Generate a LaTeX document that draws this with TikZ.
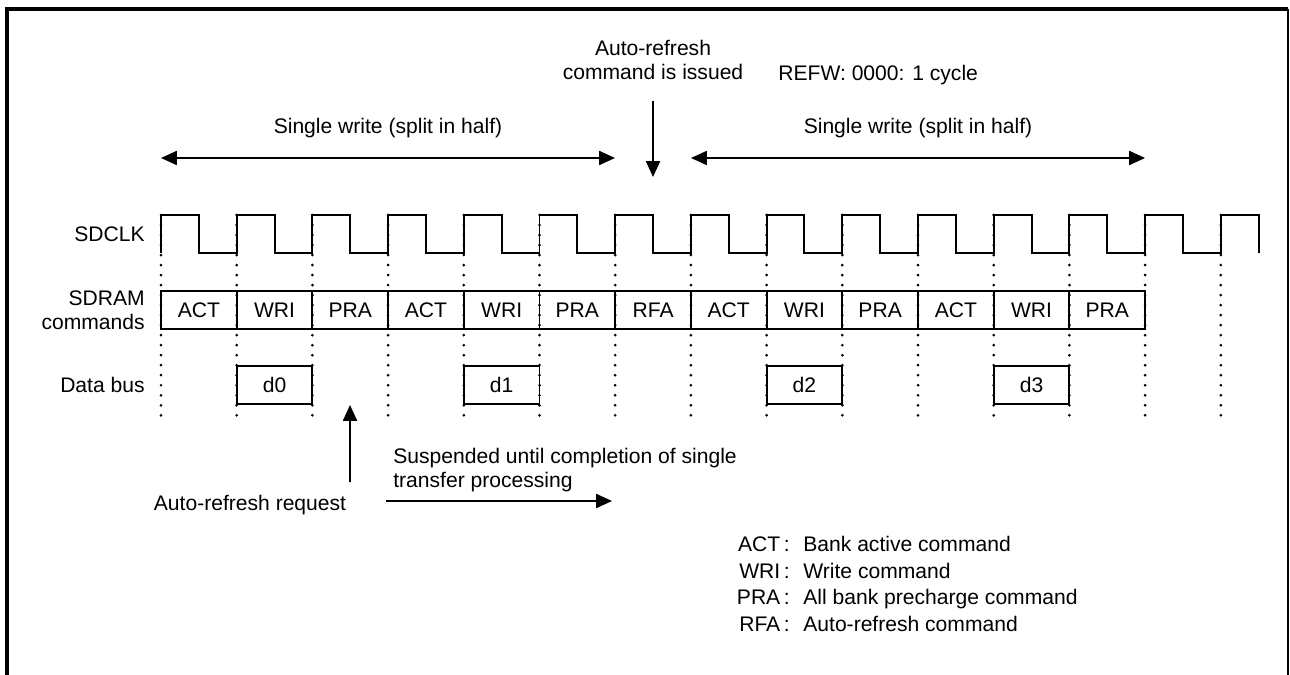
\documentclass[tikz,border=0pt]{standalone}
\usepackage{fontspec}
\setmainfont{Liberation Sans}
\usetikzlibrary{arrows.meta, positioning}

\def\per{75.7}

\begin{document}
\begin{tikzpicture}[x=0.02cm, y=-0.02cm,
    >={Triangle[length=9pt,width=8pt]},
    lbl/.style={font=\fontsize{12}{13.5}\selectfont, inner sep=0pt, align=center},
    cell/.style={lbl, draw, line width=1.1pt, minimum width=1.514cm, minimum height=0.76cm},
    guide/.style={line width=1.7pt, line cap=round, dash pattern=on 0pt off 5.7pt},
    wave/.style={line width=1.1pt},
    arr/.style={->, line width=0.9pt},
    dblarr/.style={<->, line width=0.9pt}]

    \useasboundingbox (0,0) rectangle (1290,675);
    \draw[line width=1.8pt] (7,675) -- (7,9) -- (1288,9);
    \draw[line width=1.2pt] (1288,9) -- (1288,675);

    % signal names
    \node[lbl, anchor=east] (sdclk) at (145,234) {SDCLK};
    \node[lbl, anchor=east, align=right] (sdram) at (145,310) {SDRAM\\commands};
    \node[lbl, anchor=east] (dbus) at (145,385) {Data bus};

    % cycle boundaries
    \foreach \i in {0,...,14}
        \draw[guide] ({161+\per*\i},215) -- ({161+\per*\i},417);

    % clock
    \draw[wave] (161,253) \foreach \i in {1,...,14}{
        -- ++(0,-38) -- ++(37.85,0) -- ++(0,38) -- ++(37.85,0)}
        -- ++(0,-38) -- ++(37.85,0) -- ++(0,38);

    % commands
    \foreach \c [count=\i] in {ACT,WRI,PRA,ACT,WRI,PRA,RFA,ACT,WRI,PRA,ACT,WRI,PRA}
        \node[cell] (cmd\i) at ({161+\per*(\i-0.5)},310) {\c};

    % data
    \foreach \k/\n in {1/0,4/1,8/2,11/3}
        \node[cell] (d\n) at ({161+\per*(\k+0.5)},385) {d\n};

    % top annotations
    \node[lbl] (sw1) at (388,128) {Single write (split in half)};
    \node[lbl] (sw2) at (918,128) {Single write (split in half)};
    \node[lbl] (issued) at (653,60) {Auto-refresh\\command is issued};
    \node[lbl, anchor=west] (refw) at (778,75) {REFW: 0000: 1 cycle};
    \coordinate (wa) at (161,158);
    \coordinate (wb) at (615,158);
    \coordinate (wc) at (691,158);
    \coordinate (wd) at (1145,158);
    \coordinate (rfaTop) at (653,101);
    \coordinate (rfaTip) at (653,177);
    \draw[dblarr] (wa) -- (wb);
    \draw[dblarr] (wc) -- (wd);
    \draw[arr] (rfaTop) -- (rfaTip);

    % bottom annotations
    \node[lbl] (req) at (250,505) {Auto-refresh request};
    \node[lbl, anchor=west, align=left] (susp) at (393,470) {Suspended until completion of single\\transfer processing};
    \coordinate (reqBot) at (350,482);
    \coordinate (reqTip) at (350,405);
    \coordinate (sa) at (386,501);
    \coordinate (sb) at (612,501);
    \draw[arr] (reqBot) -- (reqTip);
    \draw[arr] (sa) -- (sb);

    % legend
    \foreach \a/\t [count=\j] in {ACT/Bank active command, WRI/Write command,
        PRA/All bank precharge command, RFA/Auto-refresh command}{
        \node[lbl, anchor=mid east] (ab\j) at (790,{547+26.5*(\j-1)}) {\a\,:};
        \node[lbl, mid right=0.26cm of ab\j] (ds\j) {\t};
    }
\end{tikzpicture}
\end{document}
